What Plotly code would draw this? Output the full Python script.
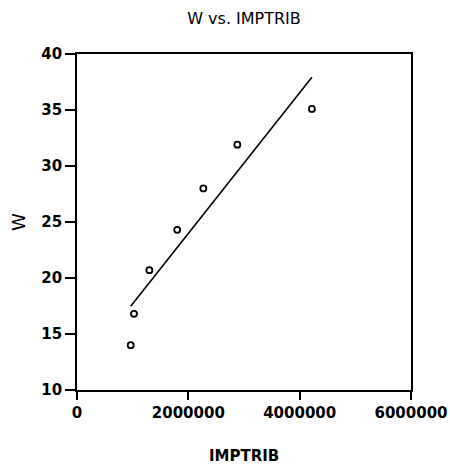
import numpy as np
import plotly.graph_objects as go

imptrib = [965000, 1024000, 1300000, 1800000, 2270000, 2880000, 4220000]
w_vals = [14.0, 16.8, 20.7, 24.3, 28.0, 31.9, 35.1]

x_ticks = [0, 2000000, 4000000, 6000000]
y_ticks = [10, 15, 20, 25, 30, 35, 40]

slope, intercept = np.polyfit(imptrib, w_vals, 1)
fit_x = [min(imptrib), max(imptrib)]
fit_y = [slope * v + intercept for v in fit_x]

fig = go.Figure()
fig.add_trace(go.Scatter(x=fit_x, y=fit_y, mode="lines",
                         line=dict(color="black", width=1.6), hoverinfo="skip"))
fig.add_trace(go.Scatter(x=imptrib, y=w_vals, mode="markers",
                         marker=dict(symbol="circle-open", size=6, color="black",
                                     line=dict(width=1.8, color="black"))))

tickfont = dict(family="DejaVu Sans", size=15, color="black", weight="bold")

fig.update_layout(
    width=450, height=466,
    margin=dict(l=77, r=39, t=54, b=76, autoexpand=False),
    paper_bgcolor="white", plot_bgcolor="white",
    showlegend=False,
    title=dict(text="W vs. IMPTRIB", x=244/450, xanchor="center",
               y=1 - 18/466, yanchor="middle", yref="container",
               font=dict(family="DejaVu Sans", size=16, color="black")),
    xaxis=dict(range=[0, 6000000], tickvals=x_ticks, tickformat="d",
               automargin=False,
               showgrid=False, zeroline=False, showline=True, linecolor="black",
               linewidth=1.8, mirror=True, ticks="outside", ticklen=8,
               tickwidth=1.5, tickcolor="black", tickfont=tickfont),
    yaxis=dict(range=[10, 40], tickvals=y_ticks, automargin=False,
               showgrid=False, zeroline=False, showline=True, linecolor="black",
               linewidth=1.8, mirror=True, ticks="outside", ticklen=10,
               tickwidth=1.5, tickcolor="black", tickfont=tickfont),
    annotations=[
        dict(text="IMPTRIB", xref="paper", yref="paper", x=0.5, y=0,
             xanchor="center", yanchor="middle", yshift=-66, showarrow=False,
             font=dict(family="DejaVu Sans", size=15, color="black", weight="bold")),
        dict(text="W", xref="paper", yref="paper", x=0, y=0.5,
             xanchor="center", yanchor="middle", xshift=-59, showarrow=False,
             textangle=-90,
             font=dict(family="DejaVu Sans", size=18, color="black")),
    ],
)

fig.write_html("out.html")
